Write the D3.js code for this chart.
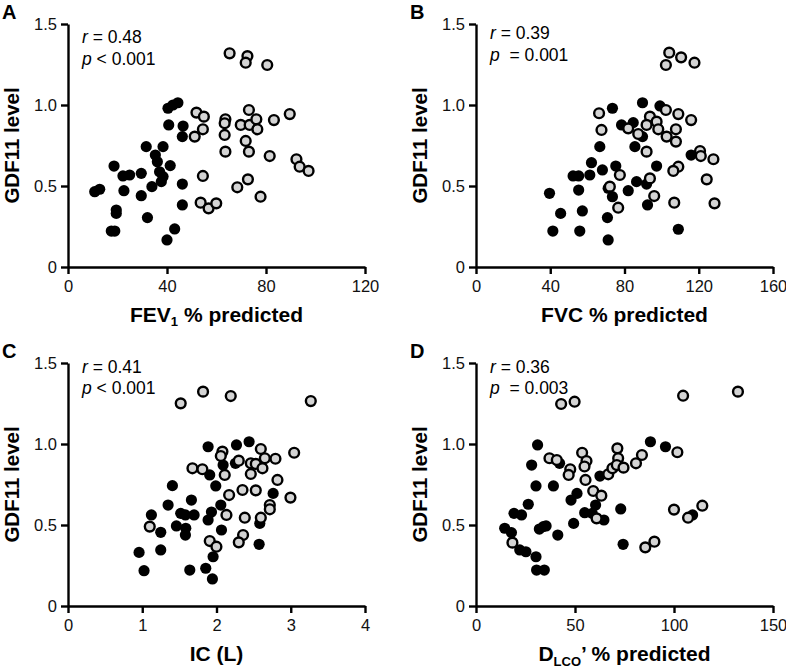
<!DOCTYPE html>
<html><head><meta charset="utf-8">
<script src="https://cdn.jsdelivr.net/npm/d3@7"></script>
<style>
html,body{margin:0;padding:0;background:#fff;}
svg{display:block;font-family:"Liberation Sans",Arial,Helvetica,sans-serif;}
</style></head>
<body><svg id="chart" width="786" height="668"></svg>
<script>
// ---- Data ----
const panelLabels = ["A", "B", "C", "D"];
const yTicks = [0, 0.5, 1.0, 1.5];
const yTickLabels = ["0", "0.5", "1.0", "1.5"];
const xTicksA = [0, 40, 80, 120];
const xTicksB = [0, 40, 80, 120, 160];
const xTicksC = [0, 1, 2, 3, 4];
const xTicksD = [0, 50, 100, 150];
const statsR = ["0.48", "0.39", "0.41", "0.36"];
const statsP = ["< 0.001", " = 0.001", "< 0.001", " = 0.003"];

// Panel A: FEV1 % predicted vs GDF11
const fevBlack = [[10.8,0.465],[12.8,0.48],[18.6,0.623],[19.5,0.352],[19.5,0.331],[17.5,0.222],[18.9,0.222],[22.2,0.562],[22.6,0.471],[24.9,0.568],[29.6,0.578],[29.6,0.44],[31.6,0.743],[32.1,0.305],[33.9,0.496],[35.3,0.691],[36.1,0.65],[38.4,0.743],[37.0,0.588],[38.4,0.558],[37.7,0.527],[41.3,0.626],[40.4,0.98],[42.4,1.0],[44.4,1.014],[40.7,0.877],[46.5,0.87],[46.2,0.805],[46.2,0.512],[46.2,0.383],[43.1,0.235],[40.0,0.167]];
const fevGrey = [[65.3,1.319],[72.5,1.302],[71.8,1.261],[80.5,1.247],[51.9,0.953],[54.9,0.928],[54.5,0.85],[51.2,0.805],[63.6,0.912],[63.3,0.887],[63.3,0.815],[63.6,0.712],[69.8,0.877],[73.1,0.969],[73.4,0.877],[76.1,0.912],[76.5,0.85],[71.8,0.778],[73.1,0.712],[83.2,0.907],[89.6,0.944],[81.5,0.685],[92.3,0.665],[93.6,0.619],[97.2,0.593],[54.5,0.562],[53.6,0.397],[56.8,0.362],[59.9,0.393],[68.4,0.492],[72.7,0.541],[77.8,0.434]];

// Panel B: FVC % predicted vs GDF11
const fvcBlack = [[39.6,0.455],[41.4,0.222],[45.6,0.331],[52.3,0.562],[55.3,0.562],[55.3,0.475],[57.3,0.346],[55.9,0.222],[61.3,0.568],[62.2,0.644],[66.7,0.743],[68.1,0.599],[70.8,0.305],[71.2,0.167],[71.2,0.486],[73.5,0.434],[75.3,0.623],[73.5,0.98],[78.4,0.877],[84.7,0.891],[85.6,0.743],[82.0,0.471],[86.5,0.527],[89.7,1.014],[89.7,0.805],[92.4,0.383],[91.9,0.512],[97.3,0.623],[99.1,0.994],[109.0,0.233],[115.9,0.691]];
const fvcGrey = [[104.1,1.323],[110.5,1.294],[102.3,1.247],[117.7,1.261],[66.3,0.949],[67.6,0.846],[82.0,0.856],[93.7,0.928],[91.9,0.877],[97.3,0.897],[98.2,0.85],[102.3,0.969],[109.0,0.944],[115.9,0.907],[107.7,0.85],[102.7,0.805],[107.7,0.774],[91.9,0.712],[120.7,0.716],[121.1,0.685],[127.9,0.665],[87.4,0.821],[109.0,0.619],[106.3,0.593],[77.5,0.568],[72.1,0.496],[76.6,0.366],[93.7,0.547],[96.0,0.438],[106.8,0.397],[124.3,0.541],[128.5,0.393]];

// Panel C: IC (L) vs GDF11
const icBlack = [[0.957,0.331],[1.024,0.218],[1.123,0.562],[1.249,0.455],[1.249,0.346],[1.348,0.623],[1.406,0.743],[1.46,0.494],[1.518,0.572],[1.581,0.562],[1.698,0.562],[1.662,0.654],[1.586,0.48],[1.581,0.438],[1.64,0.222],[1.855,0.233],[1.945,0.167],[1.954,0.304],[1.887,0.531],[1.932,0.58],[2.058,0.623],[2.067,0.469],[1.99,0.741],[1.909,0.809],[1.887,0.983],[2.089,0.87],[2.269,0.994],[2.255,0.881],[2.439,1.014],[2.583,0.51],[2.574,0.381],[2.763,0.695]];
const icGrey = [[1.518,1.251],[1.819,1.323],[2.192,1.296],[3.27,1.265],[2.08,0.953],[2.058,0.926],[2.3,0.897],[2.462,0.881],[2.529,0.877],[2.597,0.969],[2.651,0.912],[2.794,0.909],[3.046,0.946],[2.619,0.85],[2.462,0.815],[2.111,0.809],[1.676,0.85],[1.81,0.844],[2.821,0.778],[2.17,0.685],[2.35,0.716],[2.529,0.714],[2.996,0.669],[2.718,0.623],[2.718,0.597],[2.134,0.562],[2.381,0.545],[2.597,0.545],[1.101,0.49],[1.909,0.401],[1.999,0.366],[2.358,0.438],[2.3,0.393]];

// Panel D: DLCO' % predicted vs GDF11
const dlcoBlack = [[14.5,0.48],[17.9,0.453],[19.2,0.572],[23.0,0.562],[26.4,0.628],[22.1,0.346],[25.2,0.335],[30.3,0.304],[30.6,0.222],[34.5,0.222],[28.1,0.87],[31.1,0.994],[30.3,0.741],[39.1,0.741],[32.0,0.475],[34.0,0.49],[35.4,0.494],[41.3,0.438],[42.2,0.881],[48.0,0.654],[51.0,0.695],[49.3,0.51],[54.9,0.576],[58.7,0.572],[60.4,0.623],[64.6,0.531],[62.6,0.802],[73.1,0.599],[74.3,0.381],[88.1,1.014],[95.7,0.983],[109.4,0.562]];
const dlcoGrey = [[43.0,1.247],[49.8,1.261],[104.6,1.298],[132.3,1.323],[37.1,0.912],[40.8,0.901],[47.6,0.844],[46.8,0.809],[53.6,0.946],[55.8,0.895],[54.8,0.861],[55.3,0.778],[59.2,0.71],[63.3,0.681],[60.9,0.541],[66.8,0.813],[68.9,0.85],[71.4,0.973],[71.8,0.912],[71.1,0.87],[74.5,0.854],[80.8,0.881],[83.8,0.932],[101.7,0.949],[18.4,0.391],[85.5,0.362],[90.1,0.397],[100.0,0.595],[107.1,0.545],[114.3,0.619]];

const panels = [
  {left:68,  bottom:267, xMax:120, ticks:xTicksA, black:fevBlack,  grey:fevGrey,  title:"fev", rY:43, pY:65},
  {left:476, bottom:267, xMax:160, ticks:xTicksB, black:fvcBlack,  grey:fvcGrey,  title:"fvc", rY:39, pY:61},
  {left:68,  bottom:606, xMax:4,   ticks:xTicksC, black:icBlack,   grey:icGrey,   title:"ic",  rY:373, pY:394},
  {left:476, bottom:606, xMax:150, ticks:xTicksD, black:dlcoBlack, grey:dlcoGrey, title:"dlco",rY:373, pY:394}
];

const svg = d3.select("#chart");
const W = 297, H = 243;

panels.forEach((p, i) => {
  const x = d3.scaleLinear().domain([0, p.xMax]).range([p.left, p.left + W]);
  const y = d3.scaleLinear().domain([0, 1.5]).range([p.bottom, p.bottom - H]);
  const g = svg.append("g");

  // panel letter
  g.append("text").attr("x", p.left - 66).attr("y", p.bottom - H - 5)
    .attr("font-size", 20).attr("font-weight", "bold").text(panelLabels[i]);

  // axes
  const yAxis = d3.axisLeft(y).tickValues(yTicks).tickFormat((d, k) => yTickLabels[k])
    .tickSize(7).tickSizeOuter(0).tickPadding(4);
  const xAxis = d3.axisBottom(x).tickValues(p.ticks).tickFormat(d => d)
    .tickSize(7).tickSizeOuter(0).tickPadding(6);
  const ga = g.append("g").attr("transform", `translate(${p.left},0)`).call(yAxis);
  const gb = g.append("g").attr("transform", `translate(0,${p.bottom})`).call(xAxis);
  [ga, gb].forEach(a => {
    a.selectAll("path").attr("stroke", "#000").attr("stroke-width", 2.4);
    a.selectAll("line").attr("stroke", "#000").attr("stroke-width", 2.4);
    a.selectAll("text").attr("font-size", 16.5).attr("fill", "#111")
      .attr("font-family", "'Liberation Sans',Arial,sans-serif");
  });

  // points
  g.append("g").selectAll("circle").data(p.black).join("circle")
    .attr("cx", d => x(d[0])).attr("cy", d => y(d[1])).attr("r", 5.6)
    .attr("fill", "#000");
  g.append("g").selectAll("circle").data(p.grey).join("circle")
    .attr("cx", d => x(d[0])).attr("cy", d => y(d[1])).attr("r", 4.9)
    .attr("fill", "#d4d4d4").attr("stroke", "#000").attr("stroke-width", 2.4);

  // stats
  const tx = p.left + 14;
  const tr = g.append("text").attr("x", tx).attr("y", p.rY).attr("font-size", 17.5);
  tr.append("tspan").attr("font-style", "italic").text("r");
  tr.append("tspan").text(" = " + statsR[i]);
  const tp = g.append("text").attr("x", tx).attr("y", p.pY).attr("font-size", 17.5)
    .attr("xml:space", "preserve").style("white-space", "pre");
  tp.append("tspan").attr("font-style", "italic").text("p");
  tp.append("tspan").text(" " + statsP[i]);

  // y title
  g.append("text").attr("transform", `translate(${p.left - 49},${p.bottom - H / 2}) rotate(-90)`)
    .attr("text-anchor", "middle").attr("font-size", 20.5).attr("font-weight", "bold")
    .text("GDF11 level");

  // x title
  const xt = g.append("text").attr("x", p.left + W / 2).attr("y", p.bottom + 55)
    .attr("text-anchor", "middle").attr("font-size", 21).attr("font-weight", "bold");
  if (p.title === "fev") {
    xt.append("tspan").text("FEV");
    xt.append("tspan").attr("font-size", 13).attr("dy", 4).text("1");
    xt.append("tspan").attr("dy", -4).text(" % predicted");
  } else if (p.title === "fvc") {
    xt.text("FVC % predicted");
  } else if (p.title === "ic") {
    xt.text("IC (L)");
  } else {
    xt.append("tspan").text("D");
    xt.append("tspan").attr("font-size", 13).attr("dy", 5).text("LCO");
    xt.append("tspan").attr("dy", -5).text("\u2019 % predicted");
  }
});
</script></body></html>
